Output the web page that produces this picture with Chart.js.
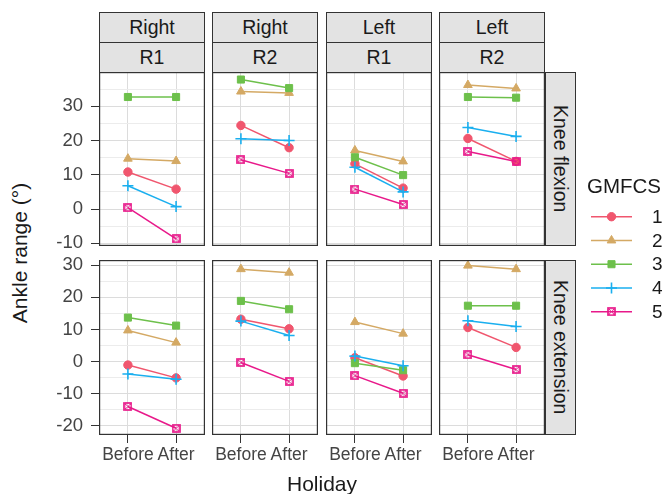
<!DOCTYPE html>
<html>
<head>
<meta charset="utf-8">
<script src="https://cdn.jsdelivr.net/npm/chart.js@4.4.1/dist/chart.umd.min.js"></script>
<style>
body { margin: 0; background: #fff; }
#wrap { position: relative; width: 667px; height: 494px; overflow: hidden; font-family: "Liberation Sans", Arial, sans-serif; }
.strip { position: absolute; box-sizing: border-box; background: #e3e3e3; border: 1.2px solid #333; color: #1a1a1a;
  font-size: 19.5px; display: flex; align-items: center; justify-content: center; }
.vstrip { writing-mode: vertical-rl; }
canvas { position: absolute; }
.title { position: absolute; color: #1a1a1a; font-size: 21px; white-space: nowrap; transform: translate(-50%, -50%); }
</style>
</head>
<body>
<div id="wrap"></div>
<script>
const categories = ['Before', 'After'];
const groups = ['1', '2', '3', '4', '5'];
const stripSide = ['Right', 'Right', 'Left', 'Left'];
const stripRound = ['R1', 'R2', 'R1', 'R2'];
const stripPosition = ['Knee flexion', 'Knee extension'];
const flexTicks = [-10, 0, 10, 20, 30];
const flexMinor = [-5, 5, 15, 25, 35];
const extTicks = [-20, -10, 0, 10, 20, 30];
const extMinor = [-15, -5, 5, 15, 25];

// [before, after] for GMFCS 1..5
const flexRightR1 = [[10.8, 5.8], [14.7, 14.0], [32.7, 32.7], [6.8, 0.7], [0.4, -8.7]];
const flexRightR2 = [[24.4, 17.9], [34.3, 33.9], [37.8, 35.3], [20.5, 20.0], [14.4, 10.4]];
const flexLeftR1 = [[13.2, 6.1], [17.1, 13.9], [15.1, 9.9], [12.2, 5.0], [5.8, 1.3]];
const flexLeftR2 = [[20.6, 13.9], [36.2, 35.2], [32.7, 32.5], [23.8, 21.2], [16.8, 13.9]];
const extRightR1 = [[-1.1, -5.1], [9.7, 5.9], [13.7, 11.2], [-3.9, -5.5], [-14.0, -20.8]];
const extRightR2 = [[13.2, 10.2], [28.8, 27.7], [18.9, 16.3], [12.6, 8.1], [-0.3, -6.2]];
const extLeftR1 = [[1.2, -4.5], [12.3, 8.7], [-0.5, -2.7], [1.7, -1.3], [-4.4, -9.9]];
const extLeftR2 = [[10.6, 4.4], [29.9, 28.8], [17.4, 17.4], [12.7, 10.9], [2.1, -2.5]];

const panels = [
  [flexRightR1, flexRightR2, flexLeftR1, flexLeftR2],
  [extRightR1, extRightR2, extLeftR1, extLeftR2]
];

const colors = ['#f0566e', '#d4a964', '#6dc04b', '#1aafef', '#e8198a'];

// square with a cross (ggplot shape 7)
const sqCross = document.createElement('canvas');
sqCross.width = 9; sqCross.height = 9;
const q = sqCross.getContext('2d');
q.strokeStyle = colors[4];
q.lineWidth = 1.7;
q.strokeRect(1, 1, 7, 7);
q.lineWidth = 1;
q.beginPath();
q.moveTo(1, 1); q.lineTo(8, 8);
q.moveTo(8, 1); q.lineTo(1, 8);
q.stroke();

const styles = ['circle', 'triangle', 'rect', 'cross', sqCross];
const radii = [4.2, 5, 5, 5.5, 5];

const colX = [99, 212, 326, 439];
const panelW = 106;
const rowY = [72, 260];
const rowH = [174, 175];
const yTickFont = { family: 'Liberation Sans', size: 18.5 };
const xTickFont = { family: 'Liberation Sans', size: 17.5 };

const wrap = document.getElementById('wrap');

function addDiv(cls, text, css) {
  const d = document.createElement('div');
  d.className = cls;
  d.textContent = text;
  Object.assign(d.style, css);
  wrap.appendChild(d);
}

for (let c = 0; c < 4; c++) {
  addDiv('strip', stripSide[c], { left: colX[c] + 'px', top: '12px', width: panelW + 'px', height: '31px' });
  addDiv('strip', stripRound[c], { left: colX[c] + 'px', top: '42px', width: panelW + 'px', height: '31px' });
}
for (let r = 0; r < 2; r++) {
  addDiv('strip vstrip', stripPosition[r], { left: '545px', top: rowY[r] + 'px', width: '31px', height: rowH[r] + 'px' });
}

const frame = {
  id: 'frame',
  afterDraw(chart) {
    const a = chart.chartArea, ctx = chart.ctx;
    ctx.save();
    ctx.strokeStyle = '#333';
    ctx.lineWidth = 1.2;
    ctx.strokeRect(a.left + 0.6, a.top + 0.6, a.right - a.left - 1.2, a.bottom - a.top - 1.2);
    ctx.restore();
  }
};

function makePanel(r, c) {
  const left = c === 0, bottom = r === 1;
  const yW = left ? 60 : 0, xH = bottom ? 45 : 0;
  const pad = left ? 12 : 0;
  const w = panelW + yW, h = rowH[r] + xH + 2 * pad;
  const cv = document.createElement('canvas');
  cv.width = w; cv.height = h;
  cv.style.left = (colX[c] - yW) + 'px';
  cv.style.top = (rowY[r] - pad) + 'px';
  cv.style.width = w + 'px';
  cv.style.height = h + 'px';
  wrap.appendChild(cv);

  const values = panels[r][c];
  const major = r === 0 ? flexTicks : extTicks;
  const minor = r === 0 ? flexMinor : extMinor;

  new Chart(cv, {
    type: 'line',
    data: {
      datasets: groups.map((g, i) => ({
        label: g,
        data: categories.map((cat, k) => ({ x: k, y: values[i][k] })),
        borderColor: colors[i],
        backgroundColor: colors[i],
        borderWidth: 1.5,
        pointStyle: styles[i],
        pointRadius: radii[i],
        pointBorderWidth: i === 3 ? 1.6 : 1,
        order: groups.length - i
      }))
    },
    options: {
      responsive: false,
      animation: false,
      devicePixelRatio: 1,
      layout: { padding: { top: pad, bottom: pad, left: 0, right: 0 }, autoPadding: false },
      plugins: { legend: { display: false }, tooltip: { enabled: false } },
      scales: {
        x: {
          type: 'linear',
          min: -0.6,
          max: 1.6,
          afterBuildTicks: s => { s.ticks = categories.map((cat, k) => ({ value: k })); },
          afterFit: s => { s.height = xH; s.paddingLeft = 0; s.paddingRight = 0; },
          border: { display: false },
          grid: { color: '#dcdcdc', lineWidth: 1, drawTicks: bottom, tickLength: 8, tickColor: '#333' },
          ticks: {
            display: bottom,
            autoSkip: false,
            maxRotation: 0,
            padding: 2,
            color: '#444',
            font: xTickFont,
            callback: v => categories[v]
          }
        },
        y: {
          type: 'linear',
          min: r === 0 ? -10.8 : -22.9,
          max: r === 0 ? 40.0 : 31.65,
          afterBuildTicks: s => {
            s.ticks = major.concat(minor).sort((a, b) => a - b).map(v => ({ value: v }));
          },
          afterFit: s => { s.width = yW; s.paddingTop = 0; s.paddingBottom = 0; },
          border: { display: false },
          grid: {
            color: ctx => (ctx.tick && major.includes(ctx.tick.value)) ? '#dcdcdc' : '#ececec',
            lineWidth: 1,
            drawTicks: left,
            tickLength: 8,
            tickColor: ctx => (ctx.tick && major.includes(ctx.tick.value)) ? '#333' : 'rgba(0,0,0,0)'
          },
          ticks: {
            display: left,
            autoSkip: false,
            padding: 8,
            color: '#444',
            font: yTickFont,
            callback: v => major.includes(v) ? String(v) : ''
          }
        }
      }
    },
    plugins: [frame]
  });
}

for (let r = 0; r < 2; r++) {
  for (let c = 0; c < 4; c++) makePanel(r, c);
}

addDiv('title', 'Holiday', { left: '322px', top: '484px' });
addDiv('title', 'Ankle range (°)', { left: '20px', top: '253px', transform: 'translate(-50%, -50%) rotate(-90deg)' });

// legend
const lg = document.createElement('canvas');
lg.width = 87; lg.height = 160;
lg.style.left = '580px'; lg.style.top = '170px';
lg.style.width = '87px'; lg.style.height = '160px';
wrap.appendChild(lg);
const lc = lg.getContext('2d');
lc.fillStyle = '#1a1a1a';
lc.font = '20.5px "Liberation Sans"';
lc.textBaseline = 'middle';
lc.fillText('GMFCS', 7, 17);
groups.forEach((g, i) => {
  const y = 46.7 + i * 23.75;
  lc.strokeStyle = colors[i];
  lc.fillStyle = colors[i];
  lc.lineWidth = 1.5;
  lc.beginPath();
  lc.moveTo(11, y); lc.lineTo(52, y);
  lc.stroke();
  lc.lineWidth = i === 3 ? 1.6 : 1;
  Chart.helpers.drawPoint(lc, { pointStyle: styles[i], radius: radii[i], rotation: 0, borderWidth: lc.lineWidth }, 31.5, y);
  lc.fillStyle = '#1a1a1a';
  lc.font = '19px "Liberation Sans"';
  lc.fillText(g, 72, y + 1);
});
</script>
</body>
</html>
